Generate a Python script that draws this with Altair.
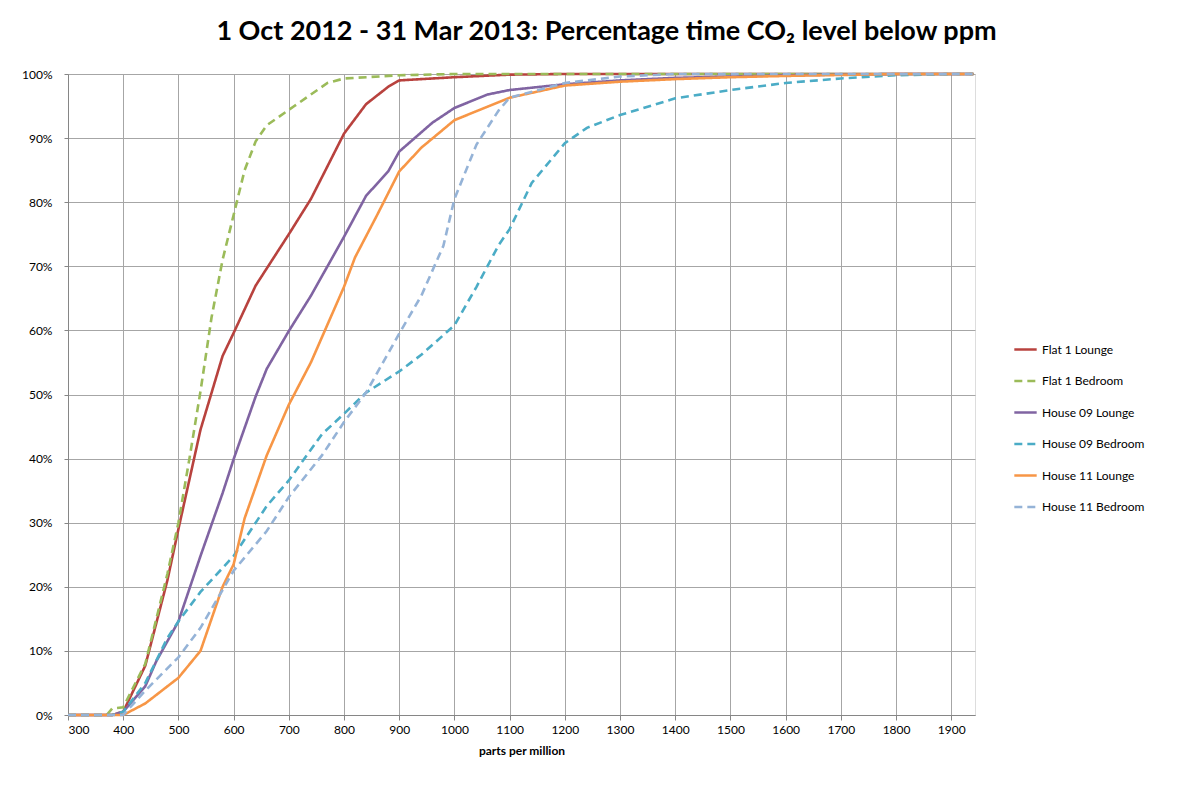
import altair as alt
import pandas as pd

# ppm sample points and % time below, per series
flat1_lounge_x = [300, 380, 400, 440, 480, 500, 540, 580, 600, 640, 700, 740, 800, 840, 880, 900, 1000, 1100, 1200, 1940]
flat1_lounge_y = [0, 0, 0.5, 7.7, 21, 29, 44.5, 56, 59.6, 67, 75, 80.5, 90.7, 95.3, 98, 99, 99.5, 99.9, 100, 100]

flat1_bed_x = [300, 370, 380, 400, 440, 480, 500, 520, 540, 560, 580, 600, 620, 640, 660, 710, 770, 800, 900, 1000, 1940]
flat1_bed_y = [0, 0, 1, 1.2, 8, 22, 30, 40, 50.5, 62, 71, 78, 85, 89.5, 92, 95, 98.6, 99.3, 99.8, 100, 100]

h09_lounge_x = [300, 380, 400, 440, 460, 500, 540, 580, 600, 640, 660, 700, 740, 800, 840, 880, 900, 960, 1000, 1060, 1100, 1200, 1300, 1400, 1500, 1600, 1800, 1940]
h09_lounge_y = [0, 0, 0.5, 4.5, 8.4, 14.6, 24.8, 34.6, 39.9, 49.7, 54, 59.9, 65.4, 74.6, 81, 84.8, 87.9, 92.4, 94.7, 96.8, 97.5, 98.4, 99, 99.4, 99.6, 99.8, 100, 100]

h09_bed_x = [300, 380, 400, 440, 480, 500, 540, 600, 660, 700, 760, 800, 840, 900, 940, 1000, 1040, 1080, 1100, 1140, 1200, 1240, 1300, 1400, 1500, 1600, 1700, 1800, 1900, 1940]
h09_bed_y = [0, 0, 0.5, 5, 12, 14.6, 19.2, 24.8, 32.6, 36.6, 43.8, 47, 50.3, 53.6, 56.2, 60.8, 66.8, 73.3, 75.8, 83, 89.2, 91.6, 93.6, 96.2, 97.5, 98.6, 99.3, 99.8, 100, 100]

h11_lounge_x = [300, 390, 400, 440, 500, 540, 580, 600, 620, 660, 700, 740, 800, 820, 860, 900, 940, 1000, 1100, 1200, 1300, 1400, 1500, 1600, 1800, 1940]
h11_lounge_y = [0, 0, 0, 1.8, 5.8, 10, 20, 23.5, 30.7, 40.5, 48.4, 55, 66.8, 71.4, 78, 84.8, 88.5, 92.8, 96.3, 98.2, 98.8, 99.2, 99.5, 99.7, 100, 100]

h11_bed_x = [300, 390, 400, 440, 500, 540, 580, 600, 660, 700, 760, 800, 840, 900, 940, 980, 1000, 1040, 1080, 1100, 1200, 1300, 1400, 1940]
h11_bed_y = [0, 0, 0, 3.8, 9, 13.6, 19.5, 22.5, 28.7, 34, 40.5, 45.7, 50.3, 59.5, 65.4, 73.2, 80.5, 89, 94.3, 96.3, 98.6, 99.6, 100, 100]

series_names = ["Flat 1 Lounge", "Flat 1 Bedroom", "House 09 Lounge",
                "House 09 Bedroom", "House 11 Lounge", "House 11 Bedroom"]
series_colors = ["#B8423E", "#9BBB59", "#8064A2", "#4BACC6", "#F79646", "#95B3D7"]
series_dashes = [[1, 0], [8, 5], [1, 0], [8, 5], [1, 0], [8, 5]]

xs = [flat1_lounge_x, flat1_bed_x, h09_lounge_x, h09_bed_x, h11_lounge_x, h11_bed_x]
ys = [flat1_lounge_y, flat1_bed_y, h09_lounge_y, h09_bed_y, h11_lounge_y, h11_bed_y]

rows = []
for name, xv, yv in zip(series_names, xs, ys):
    for i, (x, y) in enumerate(zip(xv, yv)):
        rows.append({"series": name, "ppm": x, "pct": y / 100, "order": i})
data = pd.DataFrame(rows)

FONT = "Lato"

chart = (
    alt.Chart(data)
    .mark_line(strokeWidth=2.6)
    .encode(
        x=alt.X(
            "ppm:Q",
            title="parts per million",
            scale=alt.Scale(domain=[300, 1943], nice=False, zero=False),
            axis=alt.Axis(values=list(range(300, 2000, 100)), format="d",
                          grid=True, gridColor="#A6A6A6", domainColor="#868686",
                          tickColor="#868686", tickSize=5, labelFontSize=12,
                          labelColor="#000", titleFontSize=12, titleFontWeight="bold",
                          titlePadding=10, labelPadding=4),
        ),
        y=alt.Y(
            "pct:Q",
            title=None,
            scale=alt.Scale(domain=[0, 1], nice=False),
            axis=alt.Axis(values=[i / 10 for i in range(11)], format=".0%",
                          grid=True, gridColor="#A6A6A6", domainColor="#868686",
                          tickColor="#868686", tickSize=4, labelFontSize=12,
                          labelColor="#000", labelPadding=12,
                          minExtent=50, maxExtent=50),
        ),
        color=alt.Color(
            "series:N",
            scale=alt.Scale(domain=series_names, range=series_colors),
            legend=alt.Legend(title=None, orient="none", legendX=945, legendY=263,
                              symbolType="stroke", symbolSize=500, symbolStrokeWidth=2.6,
                              labelFontSize=12, rowPadding=12.5, labelColor="#000"),
        ),
        strokeDash=alt.StrokeDash(
            "series:N",
            scale=alt.Scale(domain=series_names, range=series_dashes),
            legend=None,
        ),
        order="order:Q",
    )
    .properties(
        width=907,
        height=641,
        padding={"left": 10, "top": 10, "right": 10, "bottom": 10},
        title=alt.TitleParams(
            "1 Oct 2012 - 31 Mar 2013: Percentage time CO₂ level below ppm",
            fontSize=27, font=FONT, fontWeight="bold", anchor="middle",
            dx=85, offset=22, color="#000",
        ),
    )
    .configure_view(strokeWidth=0)
    .configure(font=FONT)
)

chart.save("out.html", embed_options={"renderer": "svg", "actions": False})
